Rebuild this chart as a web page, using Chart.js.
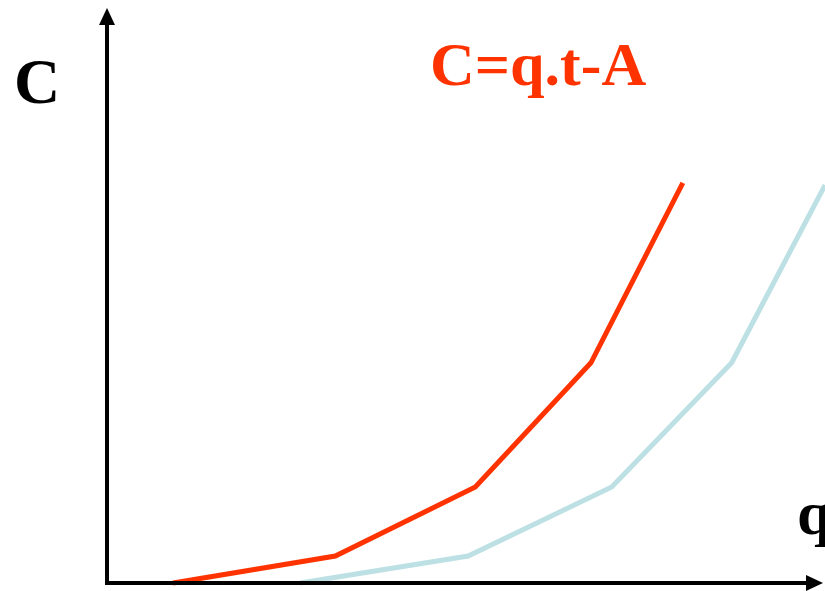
<!DOCTYPE html>
<html>
<head>
<meta charset="utf-8">
<script src="https://cdn.jsdelivr.net/npm/chart.js@4"></script>
<style>
  html, body { margin: 0; padding: 0; background: #fff; }
  #wrap { width: 825px; height: 591px; }
</style>
</head>
<body>
<div id="wrap"><canvas id="chart"></canvas></div>
<script>
// values (x: quantity q, y: cost C, both 0..100)
const redQ = [9.2, 31.8, 51.3, 67.4, 80.2];
const redC = [0, 4.7, 16.7, 38.3, 69.6];
const blueQ = [26.9, 50.3, 70.3, 87.0, 100];
const blueC = [0, 4.7, 16.7, 38.3, 69.2];

const titleText = 'C=q.t-A';
const yLabel = 'C';
const xLabel = 'q';

const toPoints = (xs, ys) => xs.map((x, i) => ({ x: x, y: ys[i] }));

// draws the arrowed axes and the text labels
const AxesArrowsPlugin = {
  id: 'axes-arrows',
  afterDraw(chart) {
    const { ctx, chartArea: a } = chart;
    ctx.save();
    ctx.strokeStyle = '#000';
    ctx.fillStyle = '#000';
    ctx.lineWidth = 4;
    ctx.beginPath();
    ctx.moveTo(a.left, a.top + 10);
    ctx.lineTo(a.left, a.bottom);
    ctx.lineTo(a.right - 10, a.bottom);
    ctx.stroke();
    // up arrow
    ctx.beginPath();
    ctx.moveTo(a.left, a.top);
    ctx.lineTo(a.left - 8, a.top + 17);
    ctx.lineTo(a.left + 8, a.top + 17);
    ctx.closePath();
    ctx.fill();
    // right arrow
    ctx.beginPath();
    ctx.moveTo(a.right - 2, a.bottom);
    ctx.lineTo(a.right - 19, a.bottom - 8);
    ctx.lineTo(a.right - 19, a.bottom + 8);
    ctx.closePath();
    ctx.fill();

    ctx.textBaseline = 'alphabetic';
    ctx.textAlign = 'left';
    ctx.font = 'bold 64px "Liberation Serif"';
    ctx.fillText(yLabel, 14, 103);
    ctx.font = 'bold 62px "Liberation Serif"';
    ctx.fillText(xLabel, 797, 534);
    ctx.fillStyle = '#FF3300';
    ctx.fillText(titleText, 430, 85);
    ctx.restore();
  }
};

new Chart(document.getElementById('chart'), {
  type: 'scatter',
  data: {
    datasets: [
      {
        data: toPoints(redQ, redC),
        showLine: true,
        borderColor: '#FF3300',
        borderWidth: 5,
        pointRadius: 0,
        clip: false
      },
      {
        data: toPoints(blueQ, blueC),
        showLine: true,
        borderColor: '#BCE0E3',
        borderWidth: 5,
        pointRadius: 0,
        clip: false
      }
    ]
  },
  options: {
    responsive: true,
    maintainAspectRatio: false,
    animation: false,
    layout: { padding: { left: 107, right: 0, top: 8, bottom: 8 } },
    plugins: {
      legend: { display: false },
      tooltip: { enabled: false },
      title: { display: false }
    },
    scales: {
      x: { type: 'linear', min: 0, max: 100, display: false },
      y: { type: 'linear', min: 0, max: 100, display: false }
    }
  },
  plugins: [AxesArrowsPlugin]
});
</script>
</body>
</html>
